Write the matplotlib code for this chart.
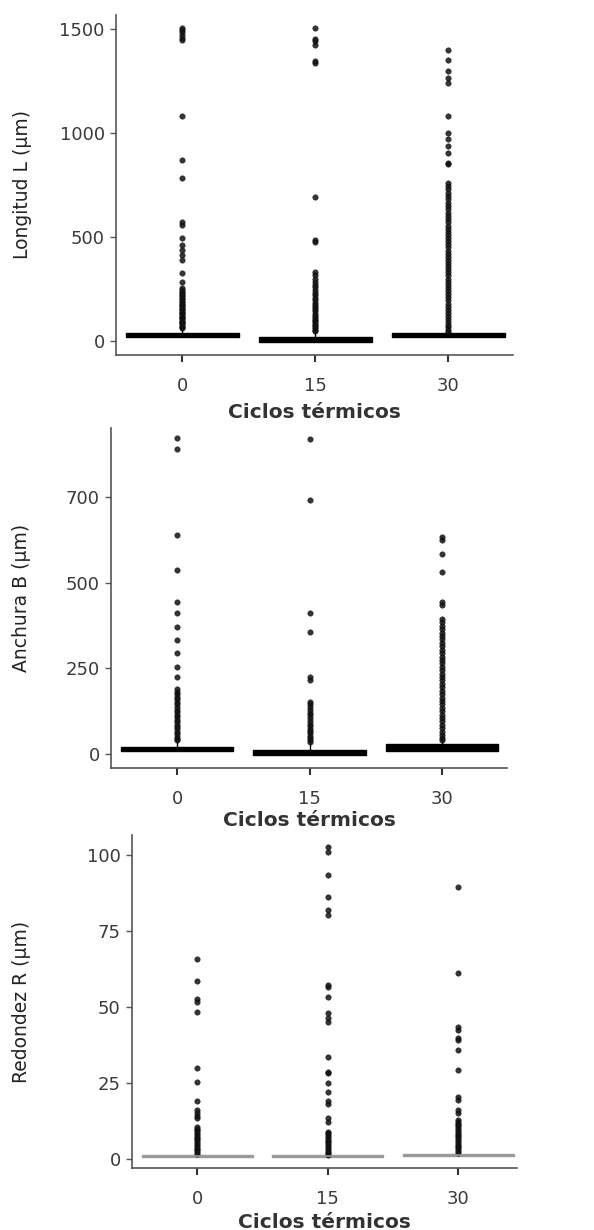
import matplotlib.pyplot as plt

ciclos = ["0", "15", "30"]

# Longitud L (um): box stats + outliers per group
L_q1 = [18, -5, 18]
L_med = [29, 5, 29]
L_q3 = [40, 20, 40]
L_whi = [60, 45, 45]
L_fliers = [
    [1505, 1495, 1485, 1470, 1455, 1445, 1083, 869, 785, 570, 560, 494, 462, 437, 413, 389, 325, 285,
     255, 245, 238, 230, 222, 215, 208, 200, 193, 186, 180, 173, 166, 160, 153, 147, 140, 134, 128,
     122, 116, 110, 104, 98, 92, 86, 80, 74, 68, 62],
    [1503, 1450, 1440, 1425, 1345, 1335, 694, 485, 475, 330, 315, 300, 285, 270, 258, 245, 232, 220,
     208, 196, 185, 174, 163, 152, 142, 132, 122, 112, 103, 94, 86, 78, 70, 62, 55, 48],
    [1400, 1350, 1298, 1266, 1242, 1082, 1002, 970, 938, 906, 857, 850, 761, 745, 730, 713, 697, 681,
     665, 649, 633, 617, 601, 585, 570, 555, 540, 525, 510, 495, 480, 465, 450, 435, 420, 405, 390,
     375, 360, 345, 330, 315, 300, 285, 270, 255, 240, 225, 210, 195, 180, 165, 150, 135, 120, 105,
     90, 78, 66, 55, 45],
]

# Anchura B (um)
B_q1 = [10, -3, 10]
B_med = [15, 5, 18]
B_q3 = [21, 12, 28]
B_whi = [40, 35, 40]
B_fliers = [
    [923, 891, 640, 538, 445, 413, 372, 333, 294, 255, 226, 190, 182, 175, 168, 160, 152, 145, 138,
     130, 122, 115, 108, 100, 93, 86, 79, 72, 65, 58, 51, 45, 40],
    [921, 743, 411, 358, 225, 215, 153, 145, 137, 129, 121, 113, 105, 97, 89, 81, 74, 67, 60, 53,
     46, 40, 36],
    [635, 626, 586, 533, 445, 436, 396, 385, 375, 365, 355, 345, 335, 325, 315, 305, 295, 285, 275,
     265, 255, 245, 235, 225, 215, 205, 195, 185, 175, 165, 155, 145, 135, 125, 115, 105, 95, 85,
     75, 65, 55, 47, 40],
]
B_ticks = [0, 250, 500, 750]
B_ticklabels = ["0", "250", "500", "700"]

# Redondez R (um)
R_q1 = [0.7, 0.7, 0.9]
R_med = [1.0, 1.0, 1.2]
R_q3 = [1.3, 1.3, 1.5]
R_whi = [1.6, 1.4, 2.0]
R_fliers = [
    [65.8, 58.7, 52.5, 51.7, 48.5, 29.8, 25.2, 19.2, 16.0, 15.0, 14.0, 13.4, 10.6, 10.0, 9.4, 8.8,
     8.2, 7.6, 7.0, 6.4, 5.8, 5.2, 4.6, 4.0, 3.4, 2.8, 2.2, 1.6],
    [102.7, 101.0, 93.6, 86.3, 81.9, 80.3, 57.2, 56.5, 53.2, 48.0, 46.5, 45.2, 33.7, 28.7, 28.3,
     24.9, 22.1, 18.9, 18.0, 13.5, 12.3, 9.0, 8.4, 7.8, 7.2, 6.6, 6.0, 5.4, 4.8, 4.2, 3.6, 3.0,
     2.4, 1.8, 1.3],
    [89.6, 61.1, 43.5, 42.4, 39.7, 39.1, 35.9, 29.3, 20.5, 19.4, 16.1, 15.0, 12.8, 12.2, 11.6, 11.0,
     10.4, 9.8, 9.2, 8.6, 8.0, 7.4, 6.8, 6.2, 5.6, 5.0, 4.4, 3.8, 3.2, 2.6, 2.0],
]

plt.rcParams['font.family'] = ['DejaVu Sans']

fig = plt.figure(figsize=(5.94, 12.3), dpi=100)

panels = [
    dict(rect=[0.195, 0.7114, 0.669, 0.2764], q1=L_q1, med=L_med, q3=L_q3, whi=L_whi, fl=L_fliers,
         ylim=(-67, 1567), ticks=[0, 500, 1000, 1500], labels=None, ylabel="Longitud L (μm)",
         xlim=(-0.5, 2.49), color="black", ylx=-0.234, xly=-0.168),
    dict(rect=[0.187, 0.3756, 0.667, 0.2764], q1=B_q1, med=B_med, q3=B_q3, whi=B_whi, fl=B_fliers,
         ylim=(-41, 953), ticks=B_ticks, labels=B_ticklabels, ylabel="Anchura B (μm)",
         xlim=(-0.5, 2.495), color="black", ylx=-0.225, xly=-0.153),
    dict(rect=[0.222, 0.0504, 0.648, 0.2707], q1=R_q1, med=R_med, q3=R_q3, whi=R_whi, fl=R_fliers,
         ylim=(-3, 106.6), ticks=[0, 25, 50, 75, 100], labels=None, ylabel="Redondez R (μm)",
         xlim=(-0.5, 2.45), color="#9a9a9a", ylx=-0.286, xly=-0.165),
]

for p in panels:
    ax = fig.add_axes(p["rect"])
    stats = []
    for i in range(3):
        stats.append(dict(med=p["med"][i], q1=p["q1"][i], q3=p["q3"][i],
                          whislo=p["q1"][i], whishi=p["whi"][i], fliers=p["fl"][i]))
    ax.bxp(stats, positions=[0, 1, 2], widths=0.85, showcaps=False, patch_artist=True,
           boxprops=dict(facecolor=p["color"], edgecolor=p["color"], linewidth=1.0),
           medianprops=dict(color=p["color"], linewidth=1.2),
           whiskerprops=dict(color="black", linewidth=1.0),
           flierprops=dict(marker="o", markersize=4.0, markerfacecolor="#111111",
                           markeredgecolor="#111111", markeredgewidth=0.3, alpha=0.85))
    ax.set_xlim(*p["xlim"])
    ax.set_ylim(*p["ylim"])
    ax.set_xticks([0, 1, 2])
    ax.set_xticklabels(ciclos)
    ax.set_yticks(p["ticks"])
    if p["labels"] is not None:
        ax.set_yticklabels(p["labels"])
    for s in ["top", "right"]:
        ax.spines[s].set_visible(False)
    for s in ["left", "bottom"]:
        ax.spines[s].set_color("#555555")
        ax.spines[s].set_linewidth(1.2)
    ax.tick_params(axis="x", length=5, width=1.5, color="#333333", pad=11,
                   labelsize=13, labelcolor="#3a3a3a")
    ax.tick_params(axis="y", length=4, width=1.0, color="#555555", pad=4,
                   labelsize=13, labelcolor="#3a3a3a")
    ax.set_ylabel(p["ylabel"], fontsize=13.5, color="#222222")
    ax.yaxis.label.set_va("center")
    ax.yaxis.set_label_coords(p["ylx"], 0.5)
    ax.set_xlabel("Ciclos térmicos", fontsize=14.5, fontweight="bold", color="#333333")
    ax.xaxis.label.set_va("center")
    ax.xaxis.set_label_coords(0.5, p["xly"])

fig.savefig("out.png", dpi=100)
